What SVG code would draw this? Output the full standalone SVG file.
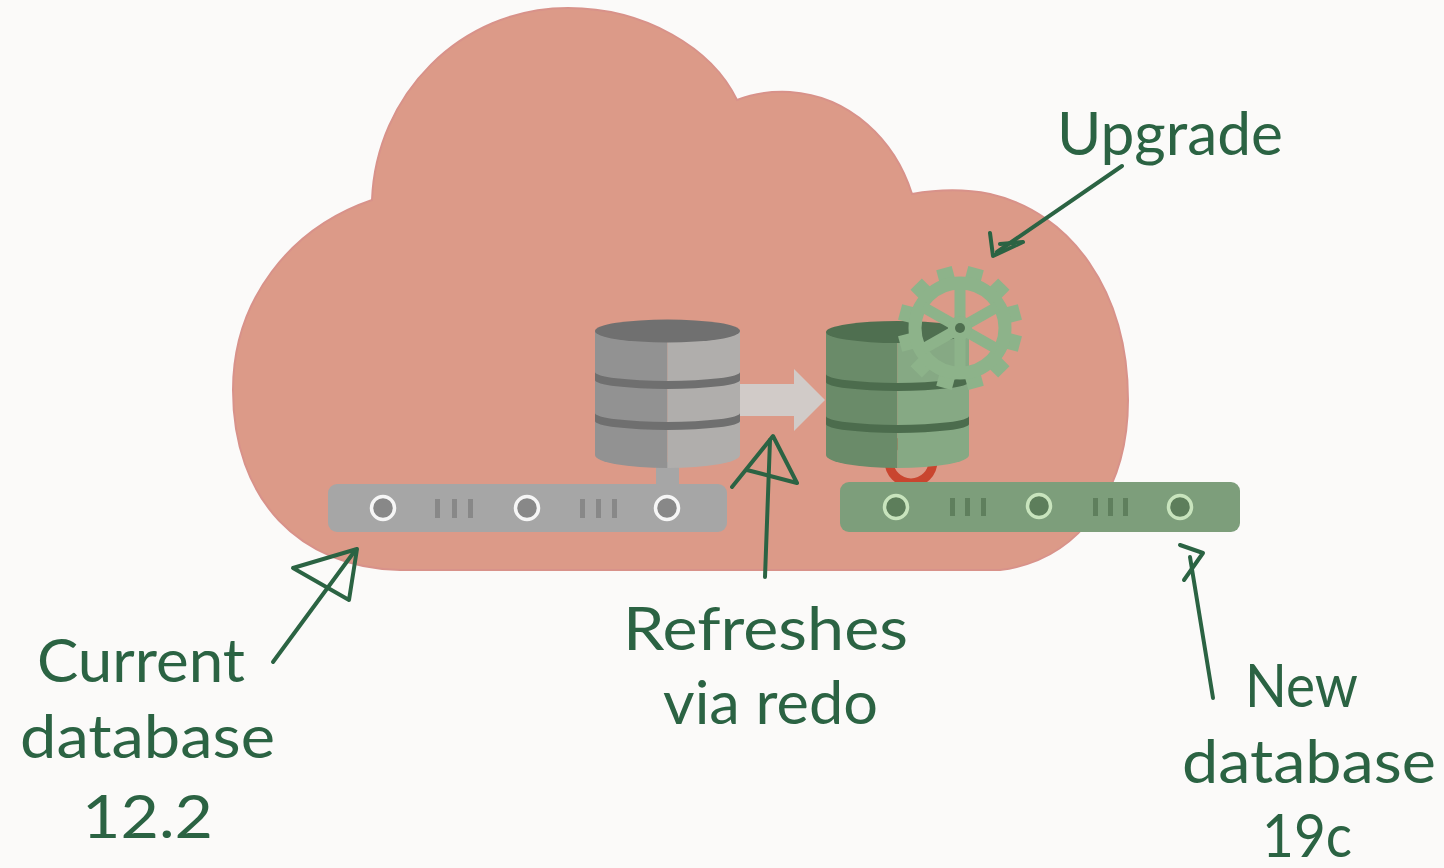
<svg xmlns="http://www.w3.org/2000/svg" width="1444" height="868" viewBox="0 0 1444 868">
  <style>
    .note { font-family: Lato, "Open Sans", "Liberation Sans", sans-serif; font-size: 60px; fill: #2b6343; }
    .hand { fill: none; stroke: #2b6343; stroke-width: 4; stroke-linecap: round; stroke-linejoin: round; }
    .gring { fill: #888888; stroke: #f6f6f6; stroke-width: 3.5; }
    .gslot { fill: #888888; }
    .nring { fill: #5d7e5b; stroke: #c8e4bd; stroke-width: 3.5; }
    .nslot { fill: #5f7f5d; }
    .spoke { stroke: #8db38a; stroke-width: 11; stroke-linecap: butt; }
  </style>
  <defs>
    <g id="tooth"><rect x="-8" y="-62" width="16" height="16" fill="#8db38a"/></g>
  </defs>

  <rect x="0" y="0" width="1444" height="868" fill="#fbfaf9"/>

  <!-- cloud backdrop -->
  <g id="cloud">
    <path d="M 400,570 C 300,568 233,500 233,390 C 233,300 290,228 372,200 C 376,95 460,8 568,8 C 645,8 712,48 737,100 C 752,94 770,91 790,92 C 850,96 895,140 912,194 C 935,190 960,188 990,194 C 1070,212 1128,290 1128,400 C 1128,490 1080,560 1000,570 Z" fill="#dc9a88" stroke="#d8928a" stroke-width="2"/>
  </g>

  <!-- current database: gray cylinder on gray server bar -->
  <g id="current-db">
    <rect x="656" y="462" width="23" height="24" fill="#a6a6a6"/>
    <rect x="328" y="484" width="399" height="48" rx="9" fill="#a6a6a6"/>
    <circle class="gring" cx="383" cy="508" r="11.5"/>
    <circle class="gring" cx="527" cy="508" r="11.5"/>
    <circle class="gring" cx="667" cy="508" r="11.5"/>
    <rect class="gslot" x="435" y="499" width="5" height="19"/>
    <rect class="gslot" x="452" y="499" width="5" height="19"/>
    <rect class="gslot" x="468" y="499" width="5" height="19"/>
    <rect class="gslot" x="580" y="499" width="5" height="19"/>
    <rect class="gslot" x="596" y="499" width="5" height="19"/>
    <rect class="gslot" x="612" y="499" width="5" height="19"/>
    <path d="M595,331 V455 A72.5,13 0 0 0 667.5,468 V331 Z" fill="#929292"/>
    <path d="M667.5,331 V468 A72.5,13 0 0 0 740,455 V331 Z" fill="#b0aeac"/>
    <ellipse cx="667.5" cy="331" rx="72.5" ry="11.5" fill="#707070"/>
    <path d="M595,372 A72.5,9 0 0 0 740,372 V380 A72.5,9 0 0 1 595,380 Z" fill="#6f6f6f"/>
    <path d="M595,413 A72.5,9 0 0 0 740,413 V421 A72.5,9 0 0 1 595,421 Z" fill="#6f6f6f"/>
  </g>

  <!-- refresh direction -->
  <g id="copy-arrow">
    <path d="M740,384 H794 V369 L825,400 L794,431 V416 H740 Z" fill="#d1cbc8"/>
  </g>

  <!-- new database: green cylinder, sync ring, server bar and gear -->
  <g id="new-db">
    <circle cx="911" cy="461" r="22" fill="none" stroke="#c9452f" stroke-width="9"/>
    <rect x="840" y="482" width="400" height="50" rx="9" fill="#7d9e7b"/>
    <circle class="nring" cx="896" cy="507" r="11.5"/>
    <circle class="nring" cx="1039" cy="506" r="11.5"/>
    <circle class="nring" cx="1180" cy="507" r="11.5"/>
    <rect class="nslot" x="950" y="498" width="5" height="18"/>
    <rect class="nslot" x="965" y="498" width="5" height="18"/>
    <rect class="nslot" x="981" y="498" width="5" height="18"/>
    <rect class="nslot" x="1093" y="498" width="5" height="18"/>
    <rect class="nslot" x="1108" y="498" width="5" height="18"/>
    <rect class="nslot" x="1123" y="498" width="5" height="18"/>
    <path d="M826,332 V455 A71.5,13 0 0 0 897.5,468 V332 Z" fill="#6a8b69"/>
    <path d="M897.5,332 V468 A71.5,13 0 0 0 969,455 V332 Z" fill="#86a984"/>
    <ellipse cx="897.5" cy="332" rx="71.5" ry="11" fill="#4f6f50"/>
    <path d="M826,374 A71.5,9 0 0 0 969,374 V382 A71.5,9 0 0 1 826,382 Z" fill="#4c6c4d"/>
    <path d="M826,416 A71.5,9 0 0 0 969,416 V424 A71.5,9 0 0 1 826,424 Z" fill="#4c6c4d"/>
  </g>

  <g id="gear" transform="translate(960,328)">
    <use href="#tooth" transform="rotate(15)"/>
    <use href="#tooth" transform="rotate(45)"/>
    <use href="#tooth" transform="rotate(75)"/>
    <use href="#tooth" transform="rotate(105)"/>
    <use href="#tooth" transform="rotate(135)"/>
    <use href="#tooth" transform="rotate(165)"/>
    <use href="#tooth" transform="rotate(195)"/>
    <use href="#tooth" transform="rotate(225)"/>
    <use href="#tooth" transform="rotate(255)"/>
    <use href="#tooth" transform="rotate(285)"/>
    <use href="#tooth" transform="rotate(315)"/>
    <use href="#tooth" transform="rotate(345)"/>
    <circle cx="0" cy="0" r="45" fill="none" stroke="#8db38a" stroke-width="13"/>
    <line class="spoke" x1="0" y1="0" x2="0" y2="-42"/>
    <line class="spoke" x1="0" y1="0" x2="37" y2="-21"/>
    <line class="spoke" x1="0" y1="0" x2="37" y2="21"/>
    <line class="spoke" x1="0" y1="0" x2="0" y2="42"/>
    <line class="spoke" x1="0" y1="0" x2="-37" y2="21"/>
    <line class="spoke" x1="0" y1="0" x2="-37" y2="-21"/>
    <circle cx="0" cy="0" r="12" fill="#8db38a"/>
    <circle cx="0" cy="0" r="5" fill="#4f6f50"/>
  </g>

  <!-- hand-drawn pointers -->
  <g id="connectors">
    <path class="hand" d="M273,662 L354,552"/>
    <path class="hand" d="M293,568 L357,549 L349,600 Z"/>
    <path class="hand" d="M765,577 L770,440"/>
    <path class="hand" d="M732,487 L773,436 L797,483 L747,470"/>
    <path class="hand" d="M1122,166 L997,252"/>
    <path class="hand" d="M990,233 L993,256 L1023,242 L1000,244"/>
    <path class="hand" d="M1213,698 L1190,557"/>
    <path class="hand" d="M1180,545 L1203,553 L1184,580"/>
  </g>

  <!-- labels -->
  <g id="label-current">
    <text class="note" x="37" y="682" textLength="208" lengthAdjust="spacingAndGlyphs">Current</text>
    <text class="note" x="20" y="758" textLength="255" lengthAdjust="spacingAndGlyphs">database</text>
    <text class="note" x="82" y="838" textLength="131" lengthAdjust="spacingAndGlyphs">12.2</text>
  </g>
  <g id="label-refresh">
    <text class="note" x="623" y="650" textLength="285" lengthAdjust="spacingAndGlyphs">Refreshes</text>
    <text class="note" x="663" y="724" textLength="215" lengthAdjust="spacingAndGlyphs">via redo</text>
  </g>
  <g id="label-upgrade">
    <text class="note" x="1057" y="155" textLength="226" lengthAdjust="spacingAndGlyphs">Upgrade</text>
  </g>
  <g id="label-new">
    <text class="note" x="1245" y="707" textLength="113" lengthAdjust="spacingAndGlyphs">New</text>
    <text class="note" x="1182" y="783" textLength="254" lengthAdjust="spacingAndGlyphs">database</text>
    <text class="note" x="1262" y="857" textLength="90" lengthAdjust="spacingAndGlyphs">19c</text>
  </g>
</svg>
